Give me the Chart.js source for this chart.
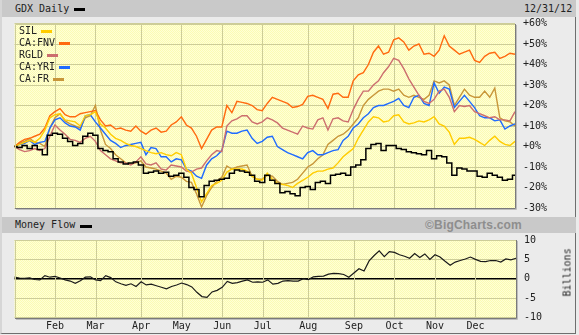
<!DOCTYPE html>
<html>
<head>
<meta charset="utf-8">
<script src="https://cdn.jsdelivr.net/npm/chart.js@4.4.0/dist/chart.umd.min.js"></script>
<style>
  body{margin:0;width:579px;height:335px;background:#ebebeb;overflow:hidden;position:relative;
       font-family:"DejaVu Sans Mono",monospace;font-size:10px;color:#222}
  .abs{position:absolute}
  .frame{left:0;top:0;width:576px;height:334px;border-right:1px solid #6e6e6e;border-bottom:1px solid #6e6e6e;border-left:2px solid #d6d6d6;box-sizing:border-box}
  .bar{left:2px;width:574px;background:#c9c9c9}
  .sw{height:3px}
  .lg{left:19px;line-height:12px;white-space:nowrap}
</style>
</head>
<body>
<div class="abs frame"></div>
<div class="abs bar" style="top:0;height:17px"></div>
<div class="abs" style="left:15px;top:3px">GDX Daily</div>
<div class="abs sw" style="left:74px;top:8px;width:11px;background:#000"></div>
<div class="abs" style="left:524px;top:3px">12/31/12</div>

<div class="abs bar" style="top:217px;height:16px"></div>
<div class="abs" style="left:15px;top:219px">Money Flow</div>
<div class="abs sw" style="left:80px;top:225px;width:12px;background:#000"></div>
<div class="abs" style="left:425px;top:218px;font:bold 12px 'Liberation Sans',Arial,sans-serif;color:#8e8e8e;letter-spacing:0.2px">©BigCharts.com</div>

<canvas id="main" class="abs" style="left:0;top:0" width="579" height="222"></canvas>
<canvas id="flow" class="abs" style="left:0;top:226px" width="579" height="108"></canvas>

<div id="legend"></div>
<div class="abs" style="left:548px;top:272px;width:38px;text-align:center;transform:rotate(-90deg)">Billions</div>

<script>
// month gridlines sit on these point indexes
const months = ['Feb','Mar','Apr','May','Jun','Jul','Aug','Sep','Oct','Nov','Dec'];
const monthIdx = [8, 16, 25, 33, 41, 49, 58, 67, 75, 83, 91];

// % change since Jan 2012
const gdx = [0,-0.5,0.5,-1,0.5,-1.5,-4,5.5,6.5,6, 4,2.5,0.5,1.5,5,6.5,5.5,-1,-2,-2.5,
  -6,-7.5,-8.5,-8,-7.5,-9,-13,-12.5,-12,-13, -12.5,-14.5,-14,-13,-15,-20,-21,-24.5,-19,-17,
  -16.5,-16,-15.5,-13,-11.5,-12,-12.5,-14,-17,-17.5, -14,-16.5,-18,-22.5,-22,-23,-24,-20,-19.5,-21,
  -17.5,-17,-18,-14,-13.5,-13,-14,-10,-9,-6.5, -1,1,1.5,-2,0.5,0.5,-1,-1.5,-2.5,-3,
  -3.5,-4,-2,-6,-4.5,-5,-8,-14,-10.5,-11, -12,-12,-14.5,-15,-13,-14,-15,-16.5,-16,-14];
const sil = [0,1,2,3,2,4,8,14,15.5,16, 13,12.5,12,10,15,15.5,17,11,9,6,
  4,3,1.5,0.5,0,-1,-2,-3,-3.5,-3, -4,-4.5,-3,-4,-11,-13,-20,-27,-23,-19,
  -18,-16.5,-12.5,-11,-11,-11,-12,-14.5,-16,-16.5, -13,-16,-18,-18.5,-19,-20,-18,-16.5,-15,-13,
  -12,-12,-11,-10.5,-8,-5,-3,-1,4,8, 12,14.5,14,12,12.5,15,15.5,12,11,11.5,
  12.5,12,13,14.5,11,10,7,1,4,4, 4.5,3.5,2,0.5,3,5,2.5,1,0.5,2.5];
const fnv = [0,2,3.5,4,5,6,9,15,17,18.5, 15.5,14.5,14.5,16,16.5,17,17.5,13,10,10.5,
  8.5,9,8,7.5,10,7.5,6,8,9,7, 7.5,10.5,12,14.5,10.5,9,5,-1,3.5,8,
  9.5,9.5,20,16.5,22,21.5,21,20,18,17.5, 21,24,23,22,21,19,19.5,20.5,24.5,25,
  24,23,18.5,25.5,26,24,24,32,35,36, 40,46,49,45,46,52,53,51,47,49,
  50,45,45.5,44,47,54,49,47,45,46, 47,42,41,44,45.5,46,43,44,45.5,45];
const rgld = [0,-1.5,-2.5,-2,-1,-2,-1,5,10.5,8, 6,3.5,3,2,4,5,2.5,-2,-4,-6,
  -7,-8,-8,-9,-7.5,-5,-8.5,-9,-8,-11, -11.5,-9,-9.5,-10,-12,-12.5,-11,-10.5,-7,-4,
  -2,-2.5,10,12.5,13.5,15,15,12,11,12, 14,13,11.5,9,8,7,6,10,9,8.5,
  13,14,8,13.5,14,12.5,12,18,23,27, 27,30,32,36,39,43,42,38,33,29,
  25,22,21,23,27,28,24,17,20,19.5, 20,17,16,15,14,14.5,13,13,12.5,17];
const yri = [0,1,1.5,3,1,2,2.5,9,13,14, 11.5,10,9.5,8,15,15.5,12,9,6,3,
  1.5,-0.5,0.5,1,1.5,2,-4,-0.5,-1,-5, -5,-7.5,-6,-6.5,-11,-12,-14.5,-15.5,-9,-6,
  -4.5,-2,7.5,6.5,6.5,7.5,8,4,1.5,2.5, 4.5,5,0,-1.5,-3,-4,-5,-6,-3,-2,
  -4,-4,-3,-2,-1.5,3,5,9,11,14, 16,19,20,20,21,22,23.5,20,19,24,
  25,21,20,31,26,29,28,19,22,25, 22,19,15,14,14,12.5,13,8.5,10,11];
const fr = [0,1.5,2.5,4,2,1.5,0,9,14,16, 12.5,11,10,9,14,15,20,8,1,-1,
  -4,-6,-8,-8.5,-8,-7,-10,-10.5,-11,-12, -13,-16,-14.5,-15,-17,-17.5,-23,-29.5,-24,-20,
  -17,-15,-9.5,-11,-10,-9.5,-9,-14.5,-16,-16, -14,-14.5,-17,-18.5,-18,-17.5,-16,-13,-10,-8.5,
  -6,-4,1,3,5,6,8,11,14,20, 23,25,27,28,28,27,28,25,24,25,
  24,23,25,32,31,32,30,20,24,28, 25,24,24,27,24,28.5,14,12.5,12,10];
// money flow, billions
const flow = [0.4,0.2,0.1,0.2,-0.2,-0.3,0.8,0.4,0.6,0.2, -0.3,-0.6,-1.2,-0.5,0.4,0.5,-0.3,-0.5,0.8,0.3,
  -0.8,-1.3,-1.7,-1.3,-2.0,-0.8,-1.6,-1.4,-1.8,-2.2, -2.6,-2.0,-1.6,-1.1,-1.5,-2.1,-3.5,-4.6,-4.8,-3.4,
  -3.0,-2.2,-0.7,-1.2,-1.0,-0.6,-0.3,-0.9,-0.8,-0.9, -0.3,-1.4,-1.2,-0.6,-0.5,-0.6,-0.6,0.0,-0.2,0.5,
  0.6,0.7,1.2,1.4,1.3,1.1,0.4,1.5,2.6,2.0, 4.6,6.0,7.2,5.7,7.0,6.8,6.2,5.8,5.3,6.5,
  5.5,6.4,5.0,6.2,5.6,4.5,3.5,4.3,4.7,5.1, 5.6,5.0,4.5,4.4,4.7,4.7,4.3,5.1,4.9,5.3];

const series = [
  {name:'SIL',    color:'#ffcc00', data:sil,  sw:[41,11]},
  {name:'CA:FNV', color:'#ff6a10', data:fnv,  sw:[59,11]},
  {name:'RGLD',   color:'#cc6e6e', data:rgld, sw:[47,11]},
  {name:'CA:YRI', color:'#1f6bff', data:yri,  sw:[59,11]},
  {name:'CA:FR',  color:'#c8963a', data:fr,   sw:[53,11]}
];

const labels = gdx.map((_, i) => {
  const k = monthIdx.indexOf(i);
  return k >= 0 ? months[k] : '';
});

const GRID = '#cdcd98';
const tickFont = {family:'DejaVu Sans Mono', size:10};
Chart.defaults.animation = false;
Chart.defaults.color = '#222';

// legend in the top-left of the price panel
const lg = document.getElementById('legend');
series.forEach((s, i) => {
  const top = 25 + i * 12;
  lg.insertAdjacentHTML('beforeend',
    `<div class="abs lg" style="top:${top}px">${s.name}</div>` +
    `<div class="abs sw" style="top:${top + 5}px;left:${s.sw[0]}px;width:${s.sw[1]}px;background:${s.color}"></div>`);
});

function paperPattern(ctx){
  const c = document.createElement('canvas');
  c.width = 2; c.height = 2;
  const p = c.getContext('2d');
  p.fillStyle = '#ffffd6'; p.fillRect(0, 0, 2, 2);
  p.fillStyle = '#fbfbb4'; p.fillRect(0, 0, 1, 1); p.fillRect(1, 1, 1, 1);
  return ctx.createPattern(c, 'repeat');
}

// yellow plot area, month gridlines and the frame
const plotBox = {
  id: 'plotBox',
  beforeDraw(chart){
    const {ctx, chartArea:a} = chart;
    ctx.save();
    ctx.fillStyle = paperPattern(ctx);
    ctx.fillRect(a.left, a.top, a.right - a.left, a.bottom - a.top);
    ctx.restore();
  },
  beforeDatasetsDraw(chart){
    const {ctx, chartArea:a, scales:{x}} = chart;
    ctx.save();
    ctx.strokeStyle = GRID;
    ctx.lineWidth = 1;
    ctx.beginPath();
    monthIdx.forEach(i => {
      const px = Math.round(x.getPixelForValue(i)) + 0.5;
      ctx.moveTo(px, a.top);
      ctx.lineTo(px, a.bottom);
    });
    ctx.stroke();
    ctx.restore();
  },
  afterDraw(chart){
    const {ctx, chartArea:a} = chart;
    ctx.save();
    ctx.lineWidth = 1;
    ctx.strokeStyle = GRID;
    ctx.beginPath();
    ctx.moveTo(Math.round(a.left) + 0.5, Math.round(a.bottom));
    ctx.lineTo(Math.round(a.left) + 0.5, Math.round(a.top) + 0.5);
    ctx.lineTo(Math.round(a.right), Math.round(a.top) + 0.5);
    ctx.stroke();
    ctx.strokeStyle = '#7a7a7a';
    ctx.beginPath();
    ctx.moveTo(Math.round(a.left), Math.round(a.bottom) + 0.5);
    ctx.lineTo(Math.round(a.right) + 0.5, Math.round(a.bottom) + 0.5);
    ctx.lineTo(Math.round(a.right) + 0.5, Math.round(a.top));
    ctx.stroke();
    ctx.strokeStyle = '#bdbdbd';
    ctx.beginPath();
    ctx.moveTo(Math.round(a.left) + 1, Math.round(a.bottom) + 1.5);
    ctx.lineTo(Math.round(a.right) + 1.5, Math.round(a.bottom) + 1.5);
    ctx.lineTo(Math.round(a.right) + 1.5, Math.round(a.top) + 1);
    ctx.stroke();
    ctx.restore();
  }
};

const hiddenGrid = {color:'rgba(0,0,0,0)', drawTicks:false};

const datasets = [{label:'GDX', data:gdx, borderColor:'#000', borderWidth:1.5, stepped:'middle'}]
  .concat(series.map(s => ({label:s.name, data:s.data, borderColor:s.color, borderWidth:1.4})));

// y tick padding adds 14px above/below the plot, the canvas sizes allow for it
new Chart(document.getElementById('main'), {
  type: 'line',
  data: {labels, datasets},
  options: {
    responsive: false,
    layout: {padding: {left:14.5, right:0, top:23.5, bottom:0}},
    elements: {point: {radius:0}, line: {tension:0}},
    plugins: {legend: {display:false}, tooltip: {enabled:false}},
    scales: {
      x: {
        ticks: {display:false, autoSkip:false},
        grid: hiddenGrid,
        border: {display:false},
        afterFit: s => { s.height = 0; }
      },
      y: {
        position: 'right',
        min: -30, max: 60,
        ticks: {stepSize:10, padding:8, font:tickFont, color:'#222',
                callback: v => (v >= 0 ? '+' : '') + v + '%'},
        grid: {color: GRID, drawTicks:false},
        border: {display:false},
        afterFit: s => { s.width = 64; }
      }
    }
  },
  plugins: [plotBox]
});

new Chart(document.getElementById('flow'), {
  type: 'line',
  data: {labels, datasets: [{label:'Money Flow', data:flow, borderColor:'#1a1a1a', borderWidth:1.2}]},
  options: {
    responsive: false,
    layout: {padding: {left:14.5, right:0, top:0, bottom:0}},
    elements: {point: {radius:0}, line: {tension:0}},
    plugins: {legend: {display:false}, tooltip: {enabled:false}},
    scales: {
      x: {
        ticks: {autoSkip:false, maxRotation:0, padding:3, font:tickFont, color:'#222'},
        grid: hiddenGrid,
        border: {display:false},
        afterFit: s => { s.height = 16.5; }
      },
      y: {
        position: 'right',
        min: -10, max: 10,
        ticks: {stepSize:5, padding:8, font:tickFont, color:'#222'},
        grid: {color: c => (c.tick && c.tick.value === 0 ? '#000' : GRID),
               lineWidth: c => (c.tick && c.tick.value === 0 ? 1.5 : 1), drawTicks:false},
        border: {display:false},
        afterFit: s => { s.width = 63; }
      }
    }
  },
  plugins: [plotBox]
});
</script>
</body>
</html>
